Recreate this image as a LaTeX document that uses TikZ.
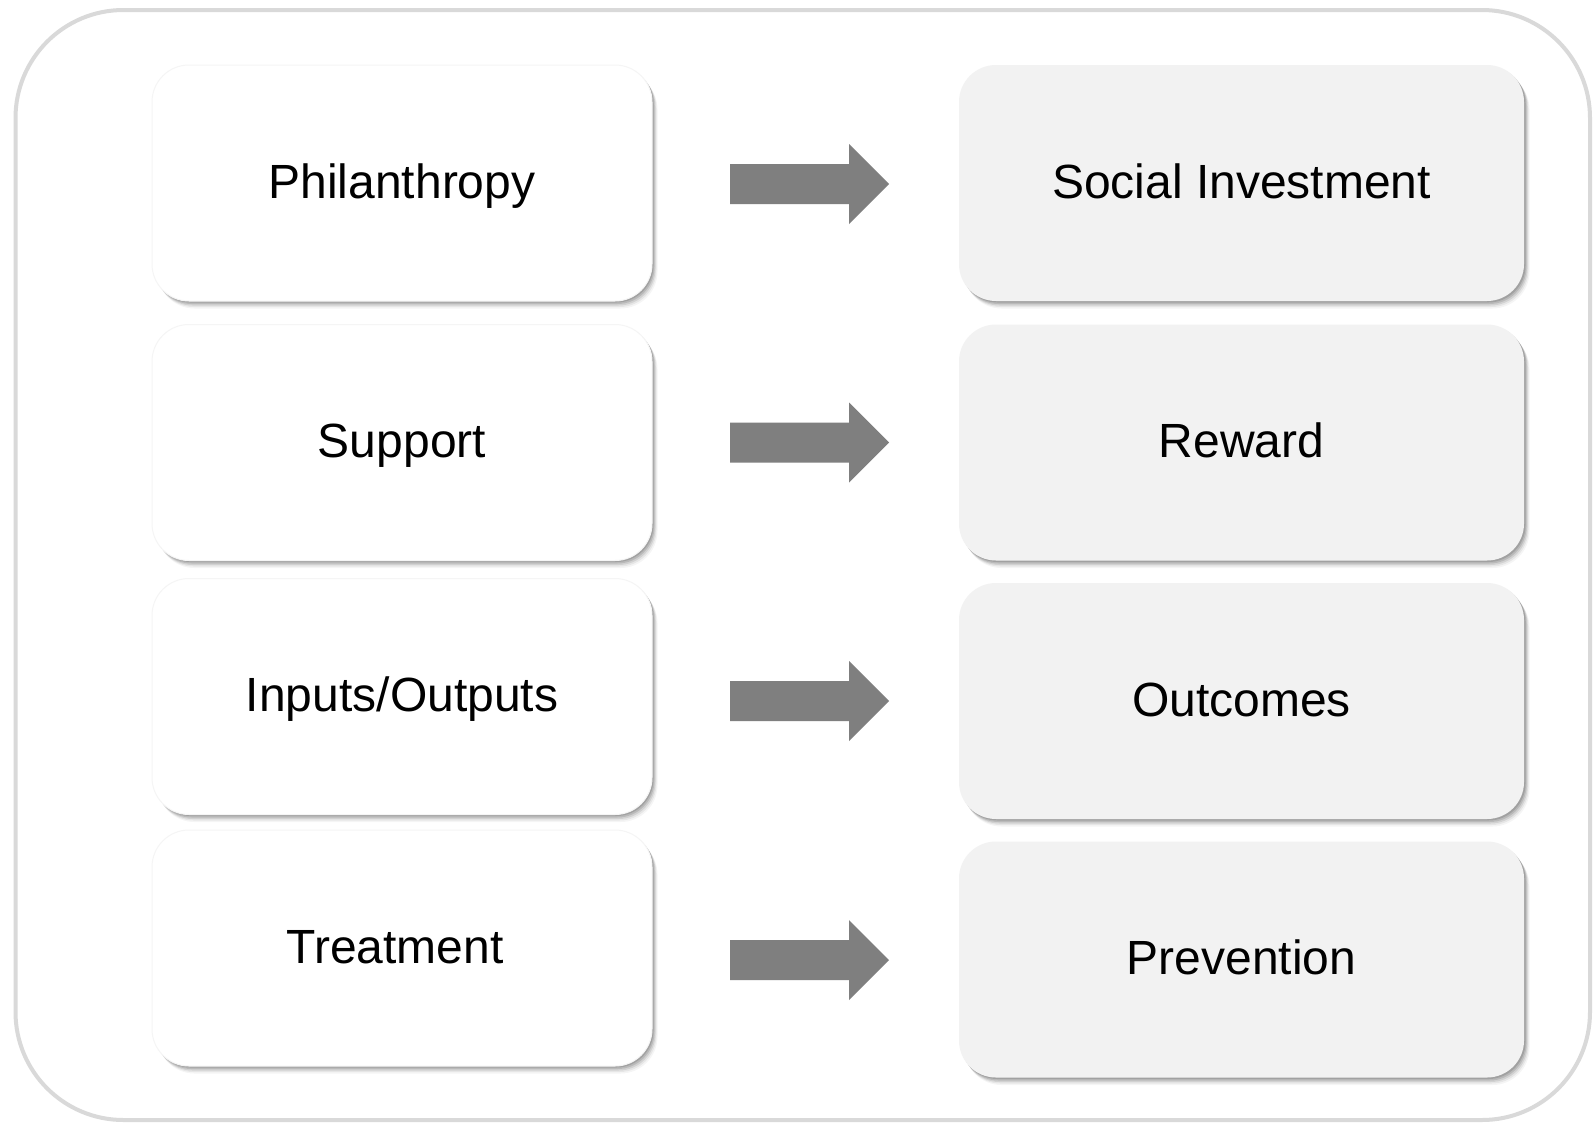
\documentclass[tikz,border=0pt]{standalone}
\usepackage{fontspec}
\setmainfont{Liberation Sans}
\usetikzlibrary{shadows}
\definecolor{outerline}{HTML}{D9D9D9}
\definecolor{rightfill}{HTML}{F2F2F2}
\definecolor{arrowgray}{HTML}{7F7F7F}
\tikzset{
  boxshadow/.style={
    general shadow={fill=black,opacity=0.13,shadow xshift=1.5pt,shadow yshift=-1.5pt},
    general shadow={fill=black,opacity=0.11,shadow xshift=2.5pt,shadow yshift=-3pt},
    general shadow={fill=black,opacity=0.09,shadow xshift=3.5pt,shadow yshift=-4.5pt},
    general shadow={fill=black,opacity=0.06,shadow xshift=4.5pt,shadow yshift=-6pt},
    general shadow={fill=black,opacity=0.04,shadow xshift=5.5pt,shadow yshift=-7.5pt}
  },
  boxbase/.style={boxshadow, rectangle, rounded corners=37pt,
    minimum height=236pt, inner sep=0pt, text height=40pt, text depth=10pt,
    font=\fontsize{48}{58}\selectfont, text=black},
  leftbox/.style={boxbase, fill=white, draw=black!4, line width=1pt, minimum width=500pt},
  rightbox/.style={boxbase, fill=rightfill, minimum width=565pt},
  blockarrow/.style={fill=arrowgray}
}
\begin{document}
\begin{tikzpicture}[x=1pt,y=-1pt]
\useasboundingbox (0,0) rectangle (1593,1122);
\fill[white] (0,0) rectangle (1593,1122);
\draw[outerline, line width=4pt, rounded corners=108pt] (15.5,10) rectangle (1590,1120);

\node[leftbox] (l1) at (402,183) {Philanthropy};
\node[leftbox] (l2) at (402,442.5) {Support};
\node[leftbox] (l3) at (402,696.5) {Inputs/Outputs};
\node[leftbox] (l4) at (402,948) {Treatment\hspace*{14pt}};

\node[rightbox] (r1) at (1241.5,183) {Social Investment};
\node[rightbox] (r2) at (1241.5,442.5) {Reward};
\node[rightbox] (r3) at (1241.5,701) {Outcomes};
\node[rightbox] (r4) at (1241.5,959.5) {Prevention};

\coordinate (a1) at (730,184);
\coordinate (a2) at (730,442.5);
\coordinate (a3) at (730,701);
\coordinate (a4) at (730,960);
\foreach \a in {a1,a2,a3,a4}{
  \fill[blockarrow] (\a) ++(0,-20) -- ++(119,0) -- ++(0,-20) -- ++(40,40)
    -- ++(-40,40) -- ++(0,-20) -- ++(-119,0) -- cycle;
}
\end{tikzpicture}
\end{document}
